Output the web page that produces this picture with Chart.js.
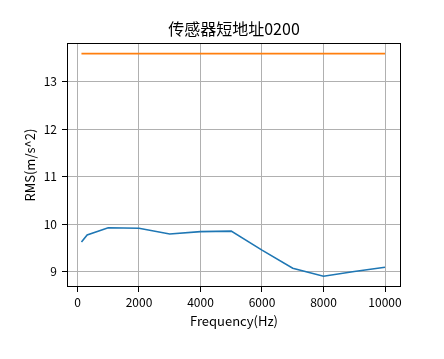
<!DOCTYPE html>
<html>
<head>
<meta charset="utf-8">
<script src="https://cdn.jsdelivr.net/npm/chart.js@4.4.0/dist/chart.umd.min.js"></script>
<style>
  body { margin: 0; background: #fff; }
  #chart { display: block; }
</style>
</head>
<body>
<canvas id="chart" width="444" height="359"></canvas>
<script>
// data
var FREQS = [130, 315, 1000, 2000, 3000, 4000, 5000, 6000, 7000, 8000, 9000, 10000];
var RMS = [9.62, 9.77, 9.92, 9.91, 9.79, 9.84, 9.85, 9.45, 9.07, 8.90, 9.00, 9.09];
var LIMIT = [13.59, 13.59, 13.59, 13.59, 13.59, 13.59, 13.59, 13.59, 13.59, 13.59, 13.59, 13.59];
var XTICKS = [0, 2000, 4000, 6000, 8000, 10000];
var YTICKS = [9, 10, 11, 12, 13];

var FONT = "'Noto Sans CJK SC', 'DejaVu Sans', sans-serif";

// black box round the plot area, like matplotlib spines
var frame = {
    id: 'frame',
    afterDraw: function (chart) {
        var a = chart.chartArea;
        var c = chart.ctx;
        c.save();
        c.strokeStyle = '#000';
        c.lineWidth = 1;
        c.strokeRect(Math.round(a.left) + 0.5, Math.round(a.top) + 0.5,
                     Math.round(a.right - a.left) - 1, Math.round(a.bottom - a.top) - 1);
        c.restore();
    }
};

var ctx = document.getElementById('chart').getContext('2d');
new Chart(ctx, {
    type: 'line',
    data: {
        datasets: [{
            label: 'RMS',
            data: FREQS.map((f, i) => ({ x: f, y: RMS[i] })),
            borderColor: '#1f77b4',
            borderWidth: 1.6,
            pointRadius: 0,
            fill: false,
            tension: 0
        }, {
            label: 'limit',
            data: FREQS.map((f, i) => ({ x: f, y: LIMIT[i] })),
            borderColor: '#ff7f0e',
            borderWidth: 1.6,
            pointRadius: 0,
            fill: false,
            tension: 0
        }]
    },
    options: {
        responsive: false,
        animation: false,
        layout: {
            padding: { left: 22, right: 43, top: 0, bottom: 30 }
        },
        plugins: {
            legend: { display: false },
            tooltip: { enabled: false },
            title: {
                display: true,
                text: '传感器短地址0200',
                fullSize: false,
                color: '#000',
                font: { family: FONT, size: 16, weight: 'normal' },
                padding: { top: 19, bottom: 5 }
            }
        },
        scales: {
            x: {
                type: 'linear',
                min: -340,
                max: 10520,
                afterFit: function (s) { s.height = 42; },
                afterBuildTicks: function (s) { s.ticks = XTICKS.map(v => ({ value: v })); },
                border: { display: false },
                grid: { color: '#b0b0b0', lineWidth: 1, tickColor: '#000', tickLength: 5 },
                ticks: {
                    maxRotation: 0,
                    autoSkip: false,
                    color: '#000',
                    padding: 3,
                    font: { family: FONT, size: 12 },
                    callback: v => v
                },
                title: {
                    display: true,
                    text: 'Frequency(Hz)',
                    color: '#000',
                    font: { family: FONT, size: 13 },
                    padding: 0
                }
            },
            y: {
                min: 8.673,
                max: 13.81,
                afterFit: function (s) { s.width = 45; },
                afterBuildTicks: function (s) { s.ticks = YTICKS.map(v => ({ value: v })); },
                border: { display: false },
                grid: { color: '#b0b0b0', lineWidth: 1, tickColor: '#000', tickLength: 5 },
                ticks: {
                    autoSkip: false,
                    color: '#000',
                    padding: 5,
                    font: { family: FONT, size: 12 }
                },
                title: {
                    display: true,
                    text: 'RMS(m/s^2)',
                    color: '#000',
                    font: { family: FONT, size: 13 },
                    padding: 0
                }
            }
        }
    },
    plugins: [frame]
});
</script>
</body>
</html>
